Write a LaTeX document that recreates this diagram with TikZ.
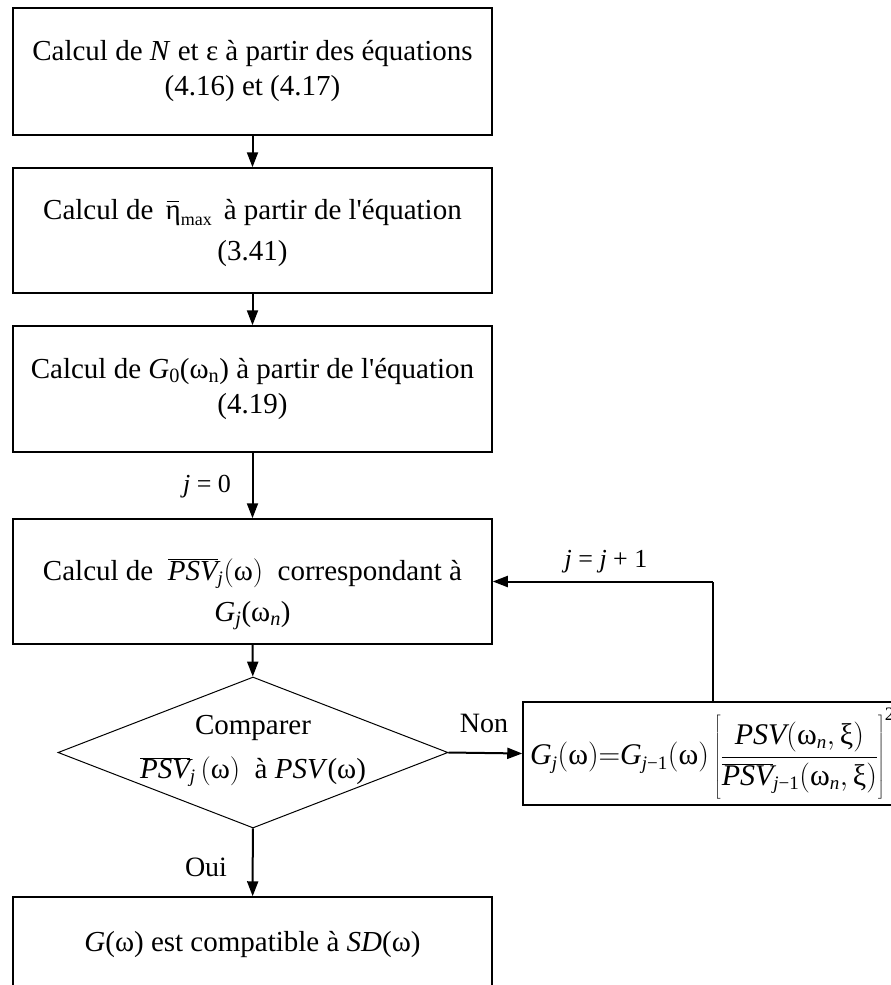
\RequirePackage{fix-cm}
\documentclass[tikz,border=0pt]{standalone}
\usepackage{fontspec}
\setmainfont{Liberation Serif}
\usetikzlibrary{arrows.meta,shapes.geometric}
\newcommand\sbx[1]{\mbox{\fontsize{19}{19}\selectfont #1}}
\newcommand\iv[1]{\mbox{\itshape #1}}
\newcommand\om{\mbox{ω}}
\newcommand\psvbar{\overline{\iv{PSV}}}
\newcommand\etabar{\makebox[0pt][l]{\hspace{1pt}\raisebox{18pt}{\rule{12.5pt}{1.4pt}}}η}
\begin{document}
\begin{tikzpicture}[x=1pt,y=-1pt,
  every node/.style={font=\fontsize{29}{35}\selectfont},
  box/.style={draw,line width=1.5pt,minimum width=479pt,inner sep=0pt},
  txt/.style={inner sep=0pt,align=center},
  conn/.style={line width=2pt,-{Triangle[length=15pt,width=11pt]}},
  thinline/.style={line width=1.2pt},
  lbl/.style={inner sep=0pt,font=\fontsize{26}{30}\selectfont}]
\useasboundingbox (0,0) rectangle (891,985);
\clip (0,0) rectangle (891,985);
% boxes
\node[box,minimum height=127pt] (b1) at (252.5,71.5) {};
\node[box,minimum height=125pt] (b2) at (252.5,230.5) {};
\node[box,minimum height=126pt] (b3) at (252.5,389) {};
\node[box,minimum height=125pt] (b4) at (252.5,581.5) {};
\node[draw,shape=diamond,line width=1pt,inner sep=0pt,minimum width=390pt,minimum height=151pt] (d) at (253,752.5) {};
\node[box,minimum height=125pt] (b5) at (252.5,959.5) {};
\node[box,minimum width=380pt,minimum height=103pt] (nb) at (713,753.5) {};
% texts
\node[txt] (t1) at (252.5,71.5)
  {Calcul de \textit{N} et ε à partir des équations\\(4.16) et (4.17)};
\node[txt] (t2) at (252.5,233.5)
  {Calcul de \,\etabar\raisebox{-6pt}{\fontsize{18}{18}\selectfont max}\, à partir de l\textquotesingle équation\\[6pt](3.41)};
\node[txt] (t3) at (252.5,389)
  {Calcul de \textit{G}\textsubscript{0}(ω\textsubscript{n}) à partir de l\textquotesingle équation\\(4.19)};
\node[txt] (t4) at (252.5,594)
  {Calcul de\enspace$\psvbar_{\sbx{\itshape j}}\bigl(\om\bigr)$\enspace correspondant à\\[6pt]\textit{G\textsubscript{j}}(ω\textsubscript{\textit{n}})};
\node[txt] (dt) at (253,751)
  {Comparer\\[9pt]$\psvbar_{\sbx{\itshape j}}\,\bigl(\om\bigr)$\enspace à \textit{PSV}(ω)};
\node[txt] (t5) at (252.5,944)
  {\textit{G}(ω) est compatible à \textit{SD}(ω)};
\node[anchor=west,inner sep=0pt,font=\fontsize{30}{36}\selectfont] (f) at (530,755)
  {$\iv{G}_{\sbx{\itshape j}}\bigl(\om\bigr){=}\iv{G}_{\sbx{\itshape j}\sbx{−1}}\bigl(\om\bigr)\left[\rule[-37pt]{0pt}{89pt}\displaystyle\frac{\iv{PSV}\bigl(\om_{\sbx{\itshape n}},\mbox{ξ}\bigr)}{\psvbar_{\sbx{\itshape j}\sbx{−1}}\bigl(\om_{\sbx{\itshape n}},\mbox{ξ}\bigr)}\right]^{\sbx{2}}$};
% labels
\node[lbl] (l0) at (207,487) {\textit{j} = 0};
\node[lbl] (l1) at (606,562) {\textit{j} = \textit{j} + 1};
\node[lbl,font=\fontsize{28}{34}\selectfont] (lnon) at (484,723) {Non};
\node[lbl,font=\fontsize{28}{34}\selectfont] (loui) at (206,867) {Oui};
% connectors
\draw[conn] (b1) -- (b2);
\draw[conn] (b2) -- (b3);
\draw[conn] (b3) -- (b4);
\draw[conn] (b4) -- (d);
\draw[conn] (d) -- (b5);
\draw[conn] (d.east) -- (nb.west);
\draw[thinline] (nb.north) -- (nb.north |- b4.east);
\draw[conn] (nb.north |- b4.east) -- (b4.east);
\end{tikzpicture}
\end{document}
